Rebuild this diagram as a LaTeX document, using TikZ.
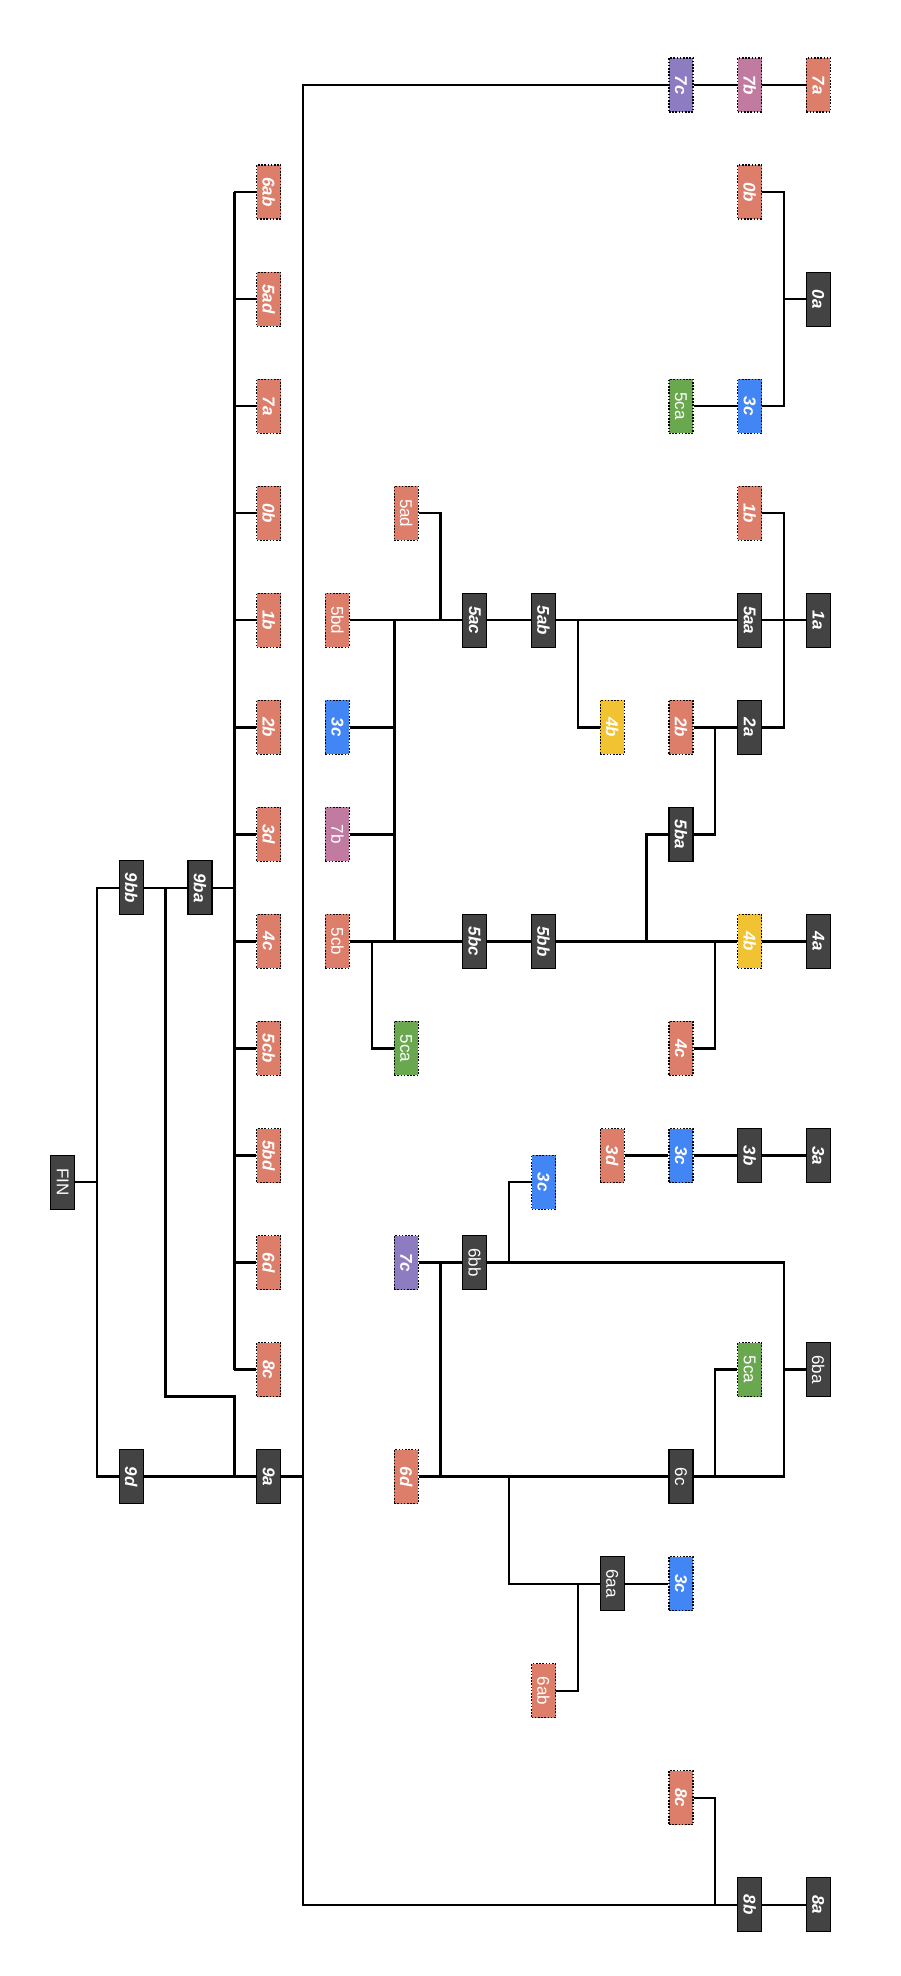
\documentclass[tikz,border=0pt]{standalone}
\usepackage{fontspec}
\setmainfont{Liberation Sans}
\usepackage{graphicx}
\definecolor{cDark}{HTML}{434343}
\definecolor{cSal}{HTML}{DD7E6B}
\definecolor{cBlue}{HTML}{4285F4}
\definecolor{cYel}{HTML}{F1C232}
\definecolor{cGrn}{HTML}{6AA84F}
\definecolor{cPur}{HTML}{8E7CC3}
\definecolor{cPnk}{HTML}{C27BA0}
% vertical labels: bold italic or upright
\newcommand{\lblb}[1]{\rotatebox{-90}{\bfseries\itshape #1}}
\newcommand{\lblr}[1]{\rotatebox{-90}{#1}}
\tikzset{
  box/.style={minimum width=24pt, minimum height=54pt, inner sep=0pt, text=white,
    line width=1.2pt, font=\fontsize{17}{19}\selectfont},
  dk/.style={box, fill=cDark, draw=black},
  dotbox/.style={box, draw=black, dash pattern=on 1.6pt off 1.6pt},
  sal/.style={dotbox, fill=cSal},
  blu/.style={dotbox, fill=cBlue},
  yel/.style={dotbox, fill=cYel},
  grn/.style={dotbox, fill=cGrn},
  pur/.style={dotbox, fill=cPur},
  pnk/.style={dotbox, fill=cPnk},
  wire/.style={line width=2.4pt, draw=black},
}
\begin{document}
\begin{tikzpicture}
\useasboundingbox (0pt,0pt) rectangle (900pt,-1976pt);
\begin{scope}[shift={(62.6pt,-85pt)}, x=68.7pt, y=-107.05pt]
% ---- nodes: (column, row)
\node[pur] (a7c) at (9,0) {\lblb{7c}};
\node[pnk] (a7b) at (10,0) {\lblb{7b}};
\node[sal] (a7a) at (11,0) {\lblb{7a}};
\node[sal] (b0b) at (10,1) {\lblb{0b}};
\node[dk]  (b0a) at (11,2) {\lblb{0a}};
\node[grn] (b5ca) at (9,3) {\lblr{5ca}};
\node[blu] (b3c) at (10,3) {\lblb{3c}};
\node[sal] (c5ad) at (5,4) {\lblr{5ad}};
\node[sal] (c1b) at (10,4) {\lblb{1b}};
\node[sal] (c5bd) at (4,5) {\lblr{5bd}};
\node[dk]  (c5ac) at (6,5) {\lblb{5ac}};
\node[dk]  (c5ab) at (7,5) {\lblb{5ab}};
\node[dk]  (c5aa) at (10,5) {\lblb{5aa}};
\node[dk]  (c1a) at (11,5) {\lblb{1a}};
\node[blu] (c3c) at (4,6) {\lblb{3c}};
\node[yel] (c4b) at (8,6) {\lblb{4b}};
\node[sal] (c2b) at (9,6) {\lblb{2b}};
\node[dk]  (c2a) at (10,6) {\lblb{2a}};
\node[pnk] (c7b) at (4,7) {\lblr{7b}};
\node[dk]  (c5ba) at (9,7) {\lblb{5ba}};
\node[sal] (c5cb) at (4,8) {\lblr{5cb}};
\node[dk]  (c5bc) at (6,8) {\lblb{5bc}};
\node[dk]  (c5bb) at (7,8) {\lblb{5bb}};
\node[yel] (c4bb) at (10,8) {\lblb{4b}};
\node[dk]  (c4a) at (11,8) {\lblb{4a}};
\node[grn] (c5ca) at (5,9) {\lblr{5ca}};
\node[sal] (c4c) at (9,9) {\lblb{4c}};
\node[sal] (d3d) at (8,10) {\lblb{3d}};
\node[blu] (d3c) at (9,10) {\lblb{3c}};
\node[dk]  (d3b) at (10,10) {\lblb{3b}};
\node[dk]  (d3a) at (11,10) {\lblb{3a}};
\node[blu] (e3c) at (7,10.25) {\lblb{3c}};
\node[pur] (e7c) at (5,11) {\lblb{7c}};
\node[dk]  (e6bb) at (6,11) {\lblr{6bb}};
\node[grn] (e5ca) at (10,12) {\lblr{5ca}};
\node[dk]  (e6ba) at (11,12) {\lblr{6ba}};
\node[sal] (e6d) at (5,13) {\lblb{6d}};
\node[dk]  (e6c) at (9,13) {\lblr{6c}};
\node[dk]  (e6aa) at (8,14) {\lblr{6aa}};
\node[blu] (e3c2) at (9,14) {\lblb{3c}};
\node[sal] (e6ab) at (7,15) {\lblr{6ab}};
\node[sal] (f8c) at (9,16) {\lblb{8c}};
\node[dk]  (f8b) at (10,17) {\lblb{8b}};
\node[dk]  (f8a) at (11,17) {\lblb{8a}};
% left column and root
\node[dk]  (nFIN) at (0,10.25) {\lblr{FIN}};
\node[dk]  (n9bb) at (1,7.5) {\lblb{9bb}};
\node[dk]  (n9ba) at (2,7.5) {\lblb{9ba}};
\node[dk]  (n9d) at (1,13) {\lblb{9d}};
\node[dk]  (n9a) at (3,13) {\lblb{9a}};
\node[sal] (L6ab) at (3,1) {\lblb{6ab}};
\node[sal] (L5ad) at (3,2) {\lblb{5ad}};
\node[sal] (L7a) at (3,3) {\lblb{7a}};
\node[sal] (L0b) at (3,4) {\lblb{0b}};
\node[sal] (L1b) at (3,5) {\lblb{1b}};
\node[sal] (L2b) at (3,6) {\lblb{2b}};
\node[sal] (L3d) at (3,7) {\lblb{3d}};
\node[sal] (L4c) at (3,8) {\lblb{4c}};
\node[sal] (L5cb) at (3,9) {\lblb{5cb}};
\node[sal] (L5bd) at (3,10) {\lblb{5bd}};
\node[sal] (L6d) at (3,11) {\lblb{6d}};
\node[sal] (L8c) at (3,12) {\lblb{8c}};
% ---- junction points
\coordinate (jTop) at (3.5,0);
\coordinate (jBot) at (3.5,17);
\coordinate (j9a) at (3.5,13);
\coordinate (j8c) at (9.5,17);
\coordinate (j0a) at (10.5,2);
\coordinate (j1a) at (10.5,5);
\coordinate (j5ad) at (5.5,5);
\coordinate (j5ab) at (7.5,5);
\coordinate (jL5) at (4.831,5);
\coordinate (jL6) at (4.831,6);
\coordinate (jL7) at (4.831,7);
\coordinate (jL8) at (4.831,8);
\coordinate (j5cb) at (4.5,8);
\coordinate (j5ba) at (8.5,8);
\coordinate (j2a) at (9.5,6);
\coordinate (j4c) at (9.5,8);
\coordinate (j6bbR) at (10.5,12);
\coordinate (j3cE) at (6.5,11);
\coordinate (j7c) at (5.5,11);
\coordinate (j6d) at (5.5,13);
\coordinate (j6aa) at (6.5,13);
\coordinate (j6ab) at (7.5,14);
\coordinate (j5caB) at (9.5,13);
\coordinate (jF) at (0.5,10.25);
\coordinate (jFa) at (0.5,7.5);
\coordinate (jFb) at (0.5,13);
\coordinate (j9bb) at (1.5,7.5);
\coordinate (j9mid) at (1.5,12.25);
\coordinate (j9elb) at (2.5,13);
\coordinate (jBa) at (2.5,7.5);
\coordinate (jBtop) at (2.5,1);
\coordinate (jBbot) at (2.5,12);
% ---- connectors
\begin{scope}[every path/.style={wire}]
\draw (a7c) -- (jTop) -- (jBot) -- (f8b);
\draw (n9a) -- (j9a);
\draw (a7c) -- (a7b) -- (a7a);
\draw (f8b) -- (f8a);
\draw (f8c.east) -| (j8c);
\draw (b0b.east) -| (j0a) |- (b3c.east);
\draw (b0a) -- (j0a);
\draw (b5ca) -- (b3c);
\draw (c1b.east) -| (j1a) |- (c2a.east);
\draw (c5aa) -- (c1a);
\draw (c5bd) -- (c5ac) -- (c5ab) -- (c5aa);
\draw (c5ad.east) -| (j5ad);
\draw (j5ab) |- (c4b.west);
\draw (jL5) -- (jL8);
\draw (c3c) -- (jL6);
\draw (c7b) -- (jL7);
\draw (c5cb) -- (c5bc) -- (c5bb) -- (c4bb) -- (c4a);
\draw (j5cb) |- (c5ca.west);
\draw (j5ba) |- (c5ba.west);
\draw (c5ba.east) -| (j2a);
\draw (c2b) -- (c2a);
\draw (c4c.east) -| (j4c);
\draw (d3d) -- (d3c) -- (d3b) -- (d3a);
\draw (e7c) -- (e6bb);
\draw (e6bb.east) -| (j6bbR) |- (e6c.east);
\draw (e6ba) -- (j6bbR);
\draw (j3cE) |- (e3c.west);
\draw (j7c) -- (j6d);
\draw (e6d) -- (e6c);
\draw (j6aa) |- (e6aa.west);
\draw (e6aa) -- (e3c2);
\draw (j6ab) |- (e6ab.east);
\draw (e5ca.west) -| (j5caB);
\draw (nFIN) -- (jF);
\draw (n9bb) -- (jFa) -- (jFb) -- (n9d);
\draw (n9bb) -- (n9ba);
\draw (n9d) -- (n9a);
\draw (j9bb) -- (j9mid) -| (j9elb);
\draw (n9ba) -- (jBa);
\draw (jBtop) -- (jBbot);
\foreach \n in {L6ab,L5ad,L7a,L0b,L1b,L2b,L3d,L4c,L5cb,L5bd,L6d,L8c}
  \draw (\n.west) -- (\n.west -| jBtop);
\end{scope}
\end{scope}
\end{tikzpicture}
\end{document}
